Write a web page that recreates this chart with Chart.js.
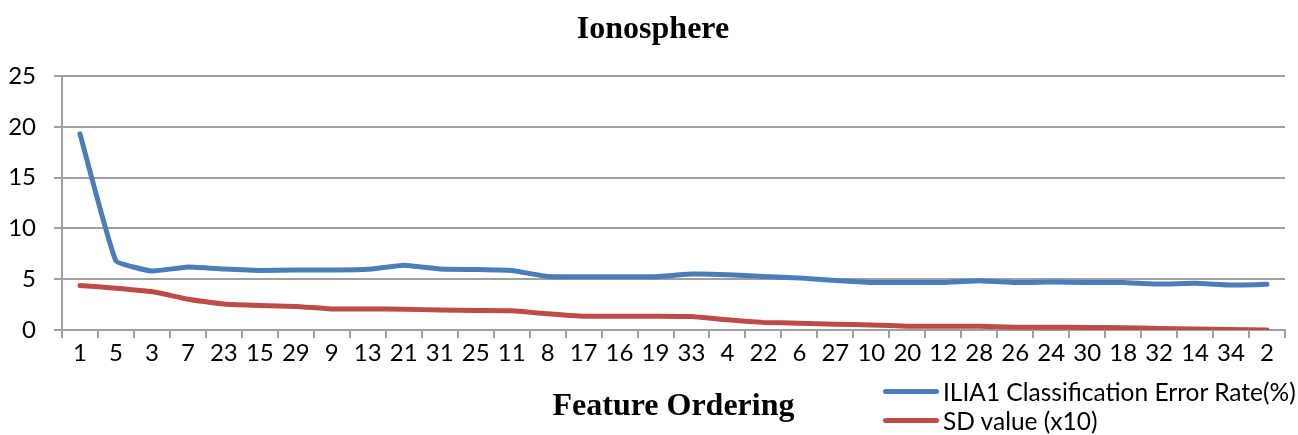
<!DOCTYPE html>
<html>
<head>
<meta charset="utf-8">
<script src="https://cdn.jsdelivr.net/npm/chart.js@4"></script>
<style>
  html, body { margin: 0; padding: 0; background: #fff; }
  #wrap { position: relative; width: 1298px; height: 435px; }
  #legend { position: absolute; left: 883px; top: 377px; font-family: Lato, sans-serif; font-size: 24.5px; color: #000; }
  #legend div { display: flex; align-items: center; height: 29px; white-space: nowrap; }
  #legend span.swatch { display: inline-block; width: 56px; height: 5px; border-radius: 3px; margin-right: 4px; }
</style>
</head>
<body>
<div id="wrap">
  <canvas id="chart" width="1298" height="435"></canvas>
  <div id="legend"></div>
</div>
<script>
// feature order along the x axis
const features = ['1', '5', '3', '7', '23', '15', '29', '9', '13', '21', '31', '25', '11', '8', '17', '16', '19',
  '33', '4', '22', '6', '27', '10', '20', '12', '28', '26', '24', '30', '18', '32', '14', '34', '2'];

// ILIA1 classification error rate (%)
const errorRate = [19.3, 6.8, 5.8, 6.2, 6.0, 5.85, 5.9, 5.9, 5.97, 6.37, 6.0, 5.95, 5.86, 5.27, 5.25, 5.25, 5.25,
  5.5, 5.45, 5.27, 5.13, 4.87, 4.68, 4.67, 4.67, 4.85, 4.67, 4.72, 4.68, 4.67, 4.52, 4.6, 4.43, 4.5];

// SD value (x10)
const sdValue = [4.38, 4.12, 3.78, 3.03, 2.55, 2.4, 2.32, 2.07, 2.07, 2.04, 1.97, 1.92, 1.89, 1.6, 1.36, 1.36, 1.36,
  1.33, 1.0, 0.75, 0.67, 0.57, 0.5, 0.38, 0.38, 0.37, 0.28, 0.28, 0.25, 0.22, 0.15, 0.11, 0.05, 0.01];

const yTicks = [0, 5, 10, 15, 20, 25];

const BLUE = '#4a7ebb';
const RED = '#be4b48';
const GRID = '#a0a0a0';
const tickFont = { family: 'Lato, sans-serif', size: 24 };
const serifBold = { family: '"Liberation Serif", "Times New Roman", serif', size: 32, weight: 'bold' };

// nudge the title a little right, the original is centred on the whole page
const titleShift = {
  id: 'titleShift',
  afterLayout(chart) {
    if (chart.titleBlock) chart.titleBlock.left += 21;
  }
};

const ctx = document.getElementById('chart');

const chart = new Chart(ctx, {
  type: 'line',
  data: {
    labels: features,
    datasets: [
      {
        label: 'ILIA1 Classification Error Rate(%)',
        data: errorRate,
        borderColor: BLUE,
        backgroundColor: BLUE,
        borderWidth: 5,
        pointRadius: 0,
        tension: 0.1,
        borderCapStyle: 'round',
        borderJoinStyle: 'round'
      },
      {
        label: 'SD value (x10)',
        data: sdValue,
        borderColor: RED,
        backgroundColor: RED,
        borderWidth: 5,
        pointRadius: 0,
        tension: 0.1,
        borderCapStyle: 'round',
        borderJoinStyle: 'round'
      }
    ]
  },
  options: {
    responsive: false,
    animation: false,
    layout: { padding: { left: 0, right: 13, top: 0, bottom: 0 } },
    plugins: {
      legend: { display: false },
      tooltip: { enabled: false },
      title: {
        display: true,
        text: 'Ionosphere',
        color: '#000',
        font: serifBold,
        padding: { top: 11, bottom: 26.6 }
      }
    },
    scales: {
      x: {
        offset: true,
        grid: { display: true, drawOnChartArea: false, drawTicks: true, tickLength: 8, offset: true, color: GRID, lineWidth: 2 },
        border: { display: true, color: GRID, width: 2 },
        ticks: { color: '#000', font: tickFont, padding: 1, maxRotation: 0, autoSkip: false },
        title: {
          display: true,
          text: 'Feature Ordering',
          color: '#000',
          font: serifBold,
          padding: { top: 0, bottom: 9 }
        },
        afterFit: (scale) => { scale.height = 105; }
      },
      y: {
        min: 0,
        max: 25,
        afterBuildTicks: (scale) => { scale.ticks = yTicks.map(v => ({ value: v })); },
        grid: { color: GRID, lineWidth: 2, drawTicks: true, tickLength: 8 },
        border: { display: true, color: GRID, width: 2 },
        ticks: { color: '#000', font: tickFont, padding: 18 },
        afterFit: (scale) => { scale.width = 62; }
      }
    }
  },
  plugins: [titleShift]
});

// legend stacked under the axis on the right, as in the original
const legend = document.getElementById('legend');
chart.data.datasets.forEach((ds) => {
  const row = document.createElement('div');
  const sw = document.createElement('span');
  sw.className = 'swatch';
  sw.style.background = ds.borderColor;
  row.appendChild(sw);
  row.appendChild(document.createTextNode(ds.label));
  legend.appendChild(row);
});
</script>
</body>
</html>
